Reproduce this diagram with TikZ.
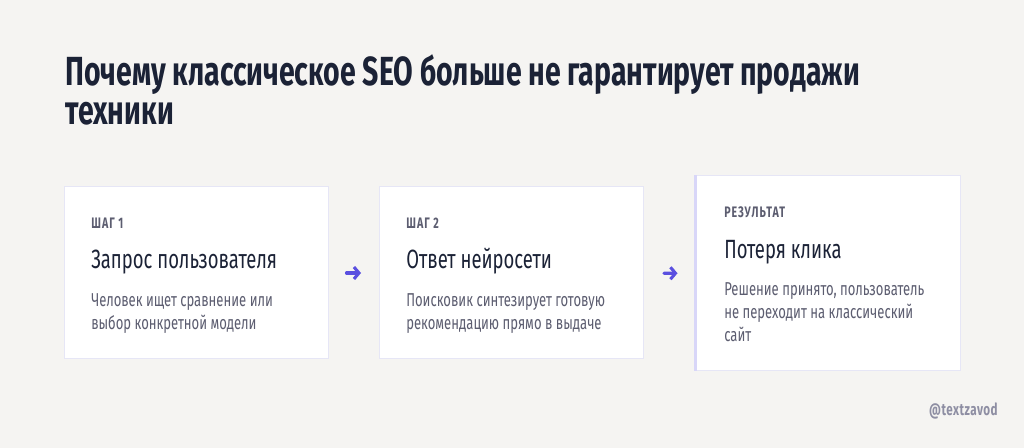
\documentclass[tikz,border=0pt]{standalone}
\usepackage{fontspec}
\setmainfont{Fira Sans}[FakeStretch=0.7]
\usepackage{xcolor}
\usetikzlibrary{arrows.meta, positioning}
\definecolor{paper}{HTML}{F5F4F2}
\definecolor{ink}{HTML}{1B2236}
\definecolor{muted}{HTML}{5C5D70}
\definecolor{cardline}{HTML}{E6E6F6}
\definecolor{accent}{HTML}{D8D6F8}
\definecolor{arrowblue}{HTML}{5A4FE0}
\definecolor{tag}{HTML}{8E8EA3}
\tikzstyle{card} = [draw=cardline, fill=white, line width=0.75pt, inner sep=0pt, minimum width=198pt, minimum height=129pt]
\tikzstyle{steplabel} = [anchor=base west, inner sep=0pt, text=muted, font=\fontsize{11.4}{13}\selectfont\bfseries\addfontfeatures{LetterSpace=7}]
\tikzstyle{cardtitle} = [anchor=base west, inner sep=0pt, text=ink, font=\fontsize{19.8}{22}\selectfont]
\tikzstyle{cardtext} = [anchor=base west, inner sep=0pt, text=muted, align=left, font=\fontsize{14}{17.6}\selectfont]
\tikzstyle{arrow} = [arrowblue, line width=2.3pt, line cap=round, -{Straight Barb[length=3.8pt, width=9pt, line width=2.3pt]}]

\begin{document}
\begin{tikzpicture}[x=0.75pt, y=-0.75pt]
    % Background
    \fill[paper] (0,0) rectangle (1024,448);
    \useasboundingbox (0,0) rectangle (1024,448);

    % Title (base = last line)
    \node[anchor=base west, inner sep=0pt, text=ink, align=left, font=\fontsize{30.5}{29.5}\selectfont\bfseries] (title) at (65, 125)
        {Почему классическое SEO больше не гарантирует продажи\\техники};

    % Cards
    \node[card] (step1) at (196, 273) {};
    \node[card] (step2) at (511.5, 273) {};
    \node[card, minimum height=146.25pt] (result) at (828, 273.5) {};
    \draw[accent, line width=2.2pt] (result.north west) -- (result.south west);

    % Step 1
    \node[steplabel] (lab1) at (91, 229) {ШАГ 1};
    \node[cardtitle] (head1) at (91, 269) {Запрос пользователя};
    \node[cardtext] (text1) at (91, 329.5) {Человек ищет сравнение или\\выбор конкретной модели};

    % Step 2
    \node[steplabel] (lab2) at (406, 229) {ШАГ 2};
    \node[cardtitle] (head2) at (406, 269) {Ответ нейросети};
    \node[cardtext] (text2) at (406, 329.5) {Поисковик синтезирует готовую\\рекомендацию прямо в выдаче};

    % Result
    \node[steplabel] (lab3) at (724, 217.5) {РЕЗУЛЬТАТ};
    \node[cardtitle] (head3) at (724, 259) {Потеря клика};
    \node[cardtext] (text3) at (724, 342) {Решение принято, пользователь\\не переходит на классический\\сайт};

    % Arrows
    \draw[arrow, shorten <=18pt*0.75, shorten >=18pt*0.75] (step1) -- (step2);
    \draw[arrow, shorten <=20pt*0.75, shorten >=18pt*0.75] (step2) -- (result);

    % Watermark
    \node[anchor=base east, inner sep=0pt, text=tag, font=\fontsize{12.5}{14}\selectfont\bfseries\addfontfeatures{LetterSpace=3}] (handle) at (998, 416) {@textzavod};
\end{tikzpicture}
\end{document}
